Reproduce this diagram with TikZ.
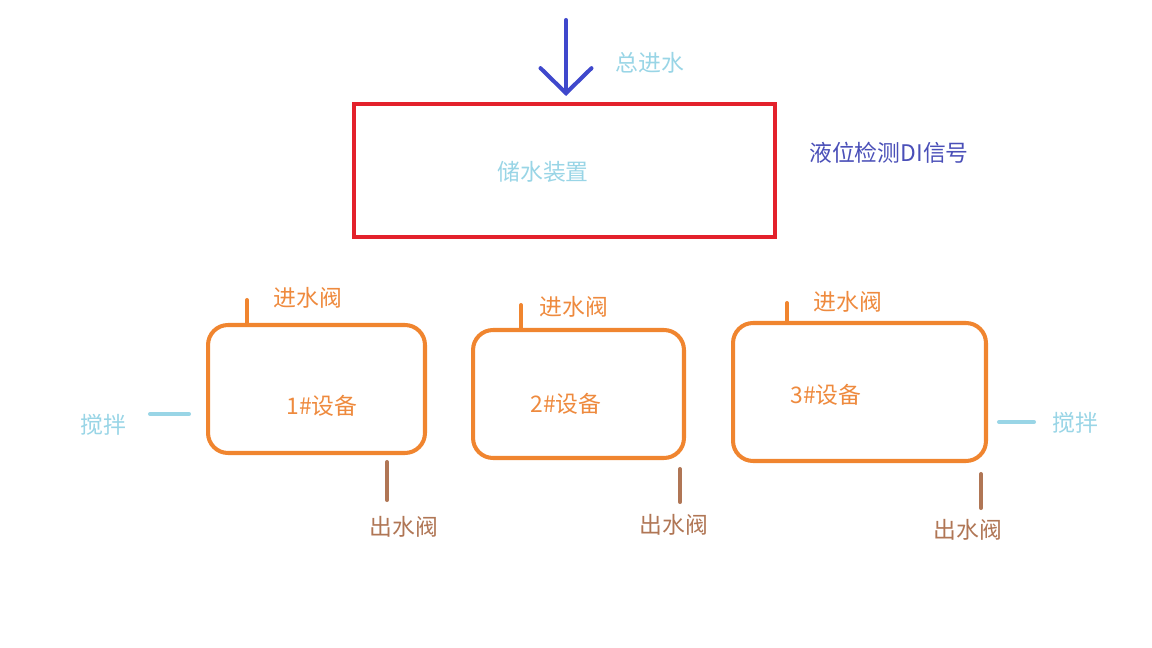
\documentclass[tikz,border=0pt]{standalone}
\usepackage{fontspec}
\setmainfont{Noto Sans CJK SC}
\usetikzlibrary{arrows.meta, positioning}
\definecolor{feedBlue}{HTML}{3F48CC}
\definecolor{signalBlue}{HTML}{4A4FB8}
\definecolor{tankRed}{HTML}{E3212B}
\definecolor{unitOrange}{HTML}{F0852F}
\definecolor{labelOrange}{HTML}{EE8A3E}
\definecolor{mixBlue}{HTML}{99D5E6}
\definecolor{drainBrown}{HTML}{B07655}

\begin{document}
\begin{tikzpicture}[x=0.02cm, y=-0.02cm,
    txt/.style={font=\fontsize{13}{15}\selectfont, inner sep=0pt},
    unit/.style={draw=unitOrange, line width=2.3pt, rounded corners=0.4cm, inner sep=0pt},
    stub/.style={line width=2.3pt, line cap=round}]
    \useasboundingbox (0,0) rectangle (1152,648);

    % storage tank and main feed
    \node[draw=tankRed, line width=2.3pt, minimum width=8.42cm, minimum height=2.66cm] (tank) at (564.5,170.5) {};
    \node[txt, text=mixBlue] (tankText) at (543,172) {储水装置};
    \coordinate (feed) at (566,20);
    \draw[feedBlue, line width=2.3pt, line cap=round, shorten >=0.12cm,
        -{Straight Barb[length=0.5cm, width=1.02cm, line cap=round]}] (feed) -- (feed |- tank.north);
    \node[txt, text=mixBlue] (feedText) at (650,63) {总进水};
    \node[txt, text=signalBlue] (levelText) at (889,153) {液位检测DI信号};

    % devices
    \node[unit, minimum width=4.34cm, minimum height=2.56cm] (dev1) at (316.5,389) {};
    \node[unit, minimum width=4.22cm, minimum height=2.56cm] (dev2) at (578.5,394) {};
    \node[unit, minimum width=5.06cm, minimum height=2.76cm] (dev3) at (859.5,392) {};
    \node[txt, text=labelOrange] (dev1Text) at (322,406) {1\#设备};
    \node[txt, text=labelOrange] (dev2Text) at (566,404) {2\#设备};
    \node[txt, text=labelOrange] (dev3Text) at (826,395) {3\#设备};

    % inlet valves
    \coordinate (in1) at (247,300);
    \coordinate (in2) at (521,305);
    \coordinate (in3) at (787,303);
    \draw[stub, unitOrange] (in1) -- (in1 |- dev1.north);
    \draw[stub, unitOrange] (in2) -- (in2 |- dev2.north);
    \draw[stub, unitOrange] (in3) -- (in3 |- dev3.north);
    \node[txt, text=labelOrange] (in1Text) at (308,298) {进水阀};
    \node[txt, text=labelOrange] (in2Text) at (574,307) {进水阀};
    \node[txt, text=labelOrange] (in3Text) at (848,302) {进水阀};

    % outlet valves
    \coordinate (out1) at (387,500);
    \coordinate (out2) at (680,502);
    \coordinate (out3) at (981,508);
    \draw[stub, drainBrown, shorten <=0.14cm] (dev1.south -| out1) -- (out1);
    \draw[stub, drainBrown, shorten <=0.18cm] (dev2.south -| out2) -- (out2);
    \draw[stub, drainBrown, shorten <=0.22cm] (dev3.south -| out3) -- (out3);
    \node[txt, text=drainBrown] (out1Text) at (404,527) {出水阀};
    \node[txt, text=drainBrown] (out2Text) at (674,525) {出水阀};
    \node[txt, text=drainBrown] (out3Text) at (968,530) {出水阀};

    % mixers
    \coordinate (mix1) at (150,414);
    \coordinate (mix3) at (1034,422);
    \draw[stub, mixBlue, shorten >=0.34cm] (mix1) -- (dev1.west |- mix1);
    \draw[stub, mixBlue, shorten >=0.22cm] (mix3) -- (dev3.east |- mix3);
    \node[txt, text=mixBlue] (mix1Text) at (103,425) {搅拌};
    \node[txt, text=mixBlue] (mix3Text) at (1075,423) {搅拌};
\end{tikzpicture}
\end{document}
